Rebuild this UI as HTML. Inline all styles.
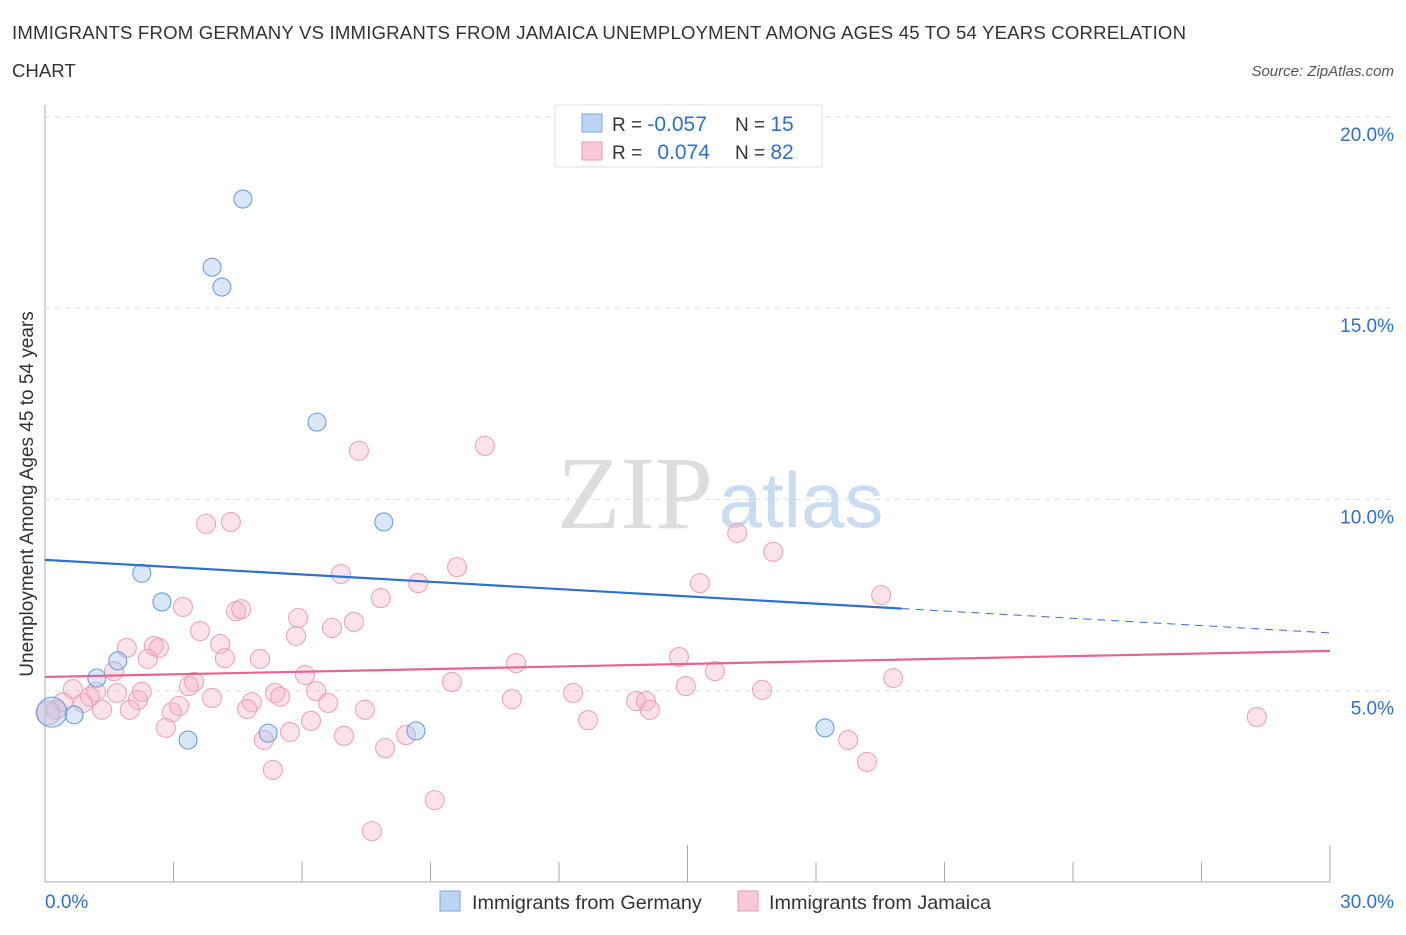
<!DOCTYPE html>
<html><head><meta charset="utf-8"><style>
body{margin:0;background:#fff;font-family:"Liberation Sans",sans-serif;}
</style></head><body>
<svg id="c" width="1406" height="930" xmlns="http://www.w3.org/2000/svg">
<text x="12" y="39" font-size="18.6" fill="#333" textLength="1174">IMMIGRANTS FROM GERMANY VS IMMIGRANTS FROM JAMAICA UNEMPLOYMENT AMONG AGES 45 TO 54 YEARS CORRELATION</text>
<text x="12" y="77" font-size="18.6" fill="#333">CHART</text>
<text x="1394" y="76" font-size="15" fill="#555" font-style="italic" text-anchor="end">Source: ZipAtlas.com</text>
<text x="635" y="528" font-size="104" fill="#ddd" font-family="Liberation Serif,serif" text-anchor="middle">ZIP</text>
<text x="801" y="527" font-size="78" fill="#c9dcf2" text-anchor="middle">atlas</text>
<text x="33" y="494" font-size="19" fill="#333" text-anchor="middle" transform="rotate(-90 33 494)">Unemployment Among Ages 45 to 54 years</text>
<g id="grid"></g><g id="pts"></g><g id="lines"></g>
<rect x="555" y="105" width="267" height="62" fill="#fff" stroke="#ddd"/>
<rect x="582" y="114" width="20" height="18" fill="#bcd5f5" stroke="#7aa7e0"/>
<rect x="582" y="142" width="20" height="18" fill="#f9c8d6" stroke="#eb9ab4"/>
<text x="612" y="131" font-size="19" fill="#333">R = <tspan fill="#2f6fd0" font-size="21">-0.057</tspan></text>
<text x="735" y="131" font-size="19" fill="#333">N = <tspan fill="#2f6fd0" font-size="21">15</tspan></text>
<text x="612" y="159" font-size="19" fill="#333">R = <tspan fill="#2f6fd0" dx="10" font-size="21">0.074</tspan></text>
<text x="735" y="159" font-size="19" fill="#333">N = <tspan fill="#2f6fd0" font-size="21">82</tspan></text>
<rect x="440" y="891" width="20" height="20" fill="#bcd5f5" stroke="#7aa7e0"/>
<text x="472" y="909" font-size="19.8" fill="#333">Immigrants from Germany</text>
<rect x="738" y="891" width="20" height="20" fill="#f9c8d6" stroke="#eb9ab4"/>
<text x="769" y="909" font-size="19.8" fill="#333">Immigrants from Jamaica</text>
<text x="45" y="908" font-size="19" fill="#2f6fd0">0.0%</text>
<text x="1394" y="908" font-size="19" fill="#2f6fd0" text-anchor="end">30.0%</text>
</svg>
<script>
const yTicks=[5,10,15,20];
const yTickLabels=["5.0%","10.0%","15.0%","20.0%"];
const xTicks=[0,3,6,9,12,15,18,21,24,27,30];
const gerX=[4.62,3.90,4.13,6.35,7.91,2.26,2.73,1.70,1.21,0.68,0.16,3.34,5.21,8.66,18.21];
const gerY=[17.85,16.07,15.55,12.02,9.41,8.07,7.32,5.78,5.33,4.37,4.44,3.71,3.89,3.95,4.03];
const jamX=[7.33,10.27,3.76,4.34,16.16,17.00,9.62,6.91,15.29,8.71,7.84,19.52,3.22,4.46,4.58,5.91,7.21,6.70,3.62,5.86,1.91,2.54,2.66,4.09,4.20,2.40,5.02,14.80,11.00,15.64,1.61,6.07,3.48,3.36,9.50,19.80,0.65,14.96,16.74,1.19,1.05,1.68,2.26,5.37,5.49,6.33,12.33,3.90,4.83,10.90,13.80,14.03,0.89,0.42,2.17,3.13,6.61,1.33,1.98,2.96,4.72,7.47,14.12,0.26,0.07,6.21,12.68,28.29,2.82,5.72,6.98,5.11,18.75,8.43,7.94,19.19,5.32,9.10,7.63];
const jamY=[11.27,11.40,9.36,9.41,9.12,8.63,8.23,8.05,7.81,7.81,7.42,7.50,7.19,7.08,7.13,6.90,6.80,6.64,6.56,6.43,6.12,6.17,6.12,6.22,5.85,5.83,5.83,5.88,5.72,5.51,5.51,5.41,5.23,5.12,5.23,5.33,5.04,5.12,5.02,4.97,4.84,4.94,4.97,4.94,4.84,4.99,4.94,4.81,4.70,4.78,4.73,4.73,4.68,4.70,4.76,4.60,4.68,4.50,4.50,4.44,4.52,4.50,4.50,4.50,4.42,4.21,4.23,4.31,4.03,3.92,3.82,3.71,3.71,3.84,3.50,3.14,2.93,2.14,1.33];
const gerTrend=[8.42,6.51];
const jamTrend=[5.36,6.04];
const gerSolidEnd=20;
const NS="http://www.w3.org/2000/svg";
const X=v=>45+v/30*1285, Y=v=>882-v/5*191.3;
function mk(t,a,p){const e=document.createElementNS(NS,t);for(const k in a)e.setAttribute(k,a[k]);p.appendChild(e);return e;}
const g=document.getElementById('grid');
let ax=mk('line',{x1:45,y1:105,x2:45,y2:882,stroke:'#aaa'},g);


let bx=mk('line',{x1:45,y1:882,x2:1330,y2:882,stroke:'#aaa'},g);


yTicks.forEach((v,i)=>{
 const l=mk('line',{x1:45,y1:Y(v),x2:1392,y2:Y(v),stroke:'#ddd','stroke-dasharray':'5,5'},g);
 
 
 const t=mk('text',{x:1394,y:Y(v)+24,'font-size':19,fill:'#2f6fd0','text-anchor':'end'},g);
 t.textContent=yTickLabels[i];
 
 
});
xTicks.forEach(v=>{
 const big=(v===15||v===30);
 const l=mk('line',{x1:X(v),y1:big?845:862,x2:X(v),y2:882,stroke:'#aaa'},g);
 
 
});
const p=document.getElementById('pts');
jamX.forEach((v,i)=>{
 const c=mk('circle',{cx:X(v),cy:Y(jamY[i]),r:(i===64?12:9.5),fill:'rgba(246,170,195,0.33)',stroke:'#eda3bc','stroke-width':1.1},p);
 
 
});
gerX.forEach((v,i)=>{
 const c=mk('circle',{cx:X(v),cy:Y(gerY[i]),r:(i===10?15:9),fill:'rgba(160,195,240,0.4)',stroke:'#6b9fe0','stroke-width':1.1},p);
 
 
});
const L=document.getElementById('lines');
const gy=x=>gerTrend[0]+(gerTrend[1]-gerTrend[0])*x/30;
let l1=mk('line',{x1:X(0),y1:Y(gerTrend[0]),x2:X(gerSolidEnd),y2:Y(gy(gerSolidEnd)),stroke:'#2f6fd0','stroke-width':2.2},L);


let l2=mk('line',{x1:X(gerSolidEnd),y1:Y(gy(gerSolidEnd)),x2:X(30),y2:Y(gerTrend[1]),stroke:'#2f6fd0','stroke-width':1,'stroke-dasharray':'8,6'},L);


let l3=mk('line',{x1:X(0),y1:Y(jamTrend[0]),x2:X(30),y2:Y(jamTrend[1]),stroke:'#e8638f','stroke-width':2.2},L);


</script>
</body></html>
